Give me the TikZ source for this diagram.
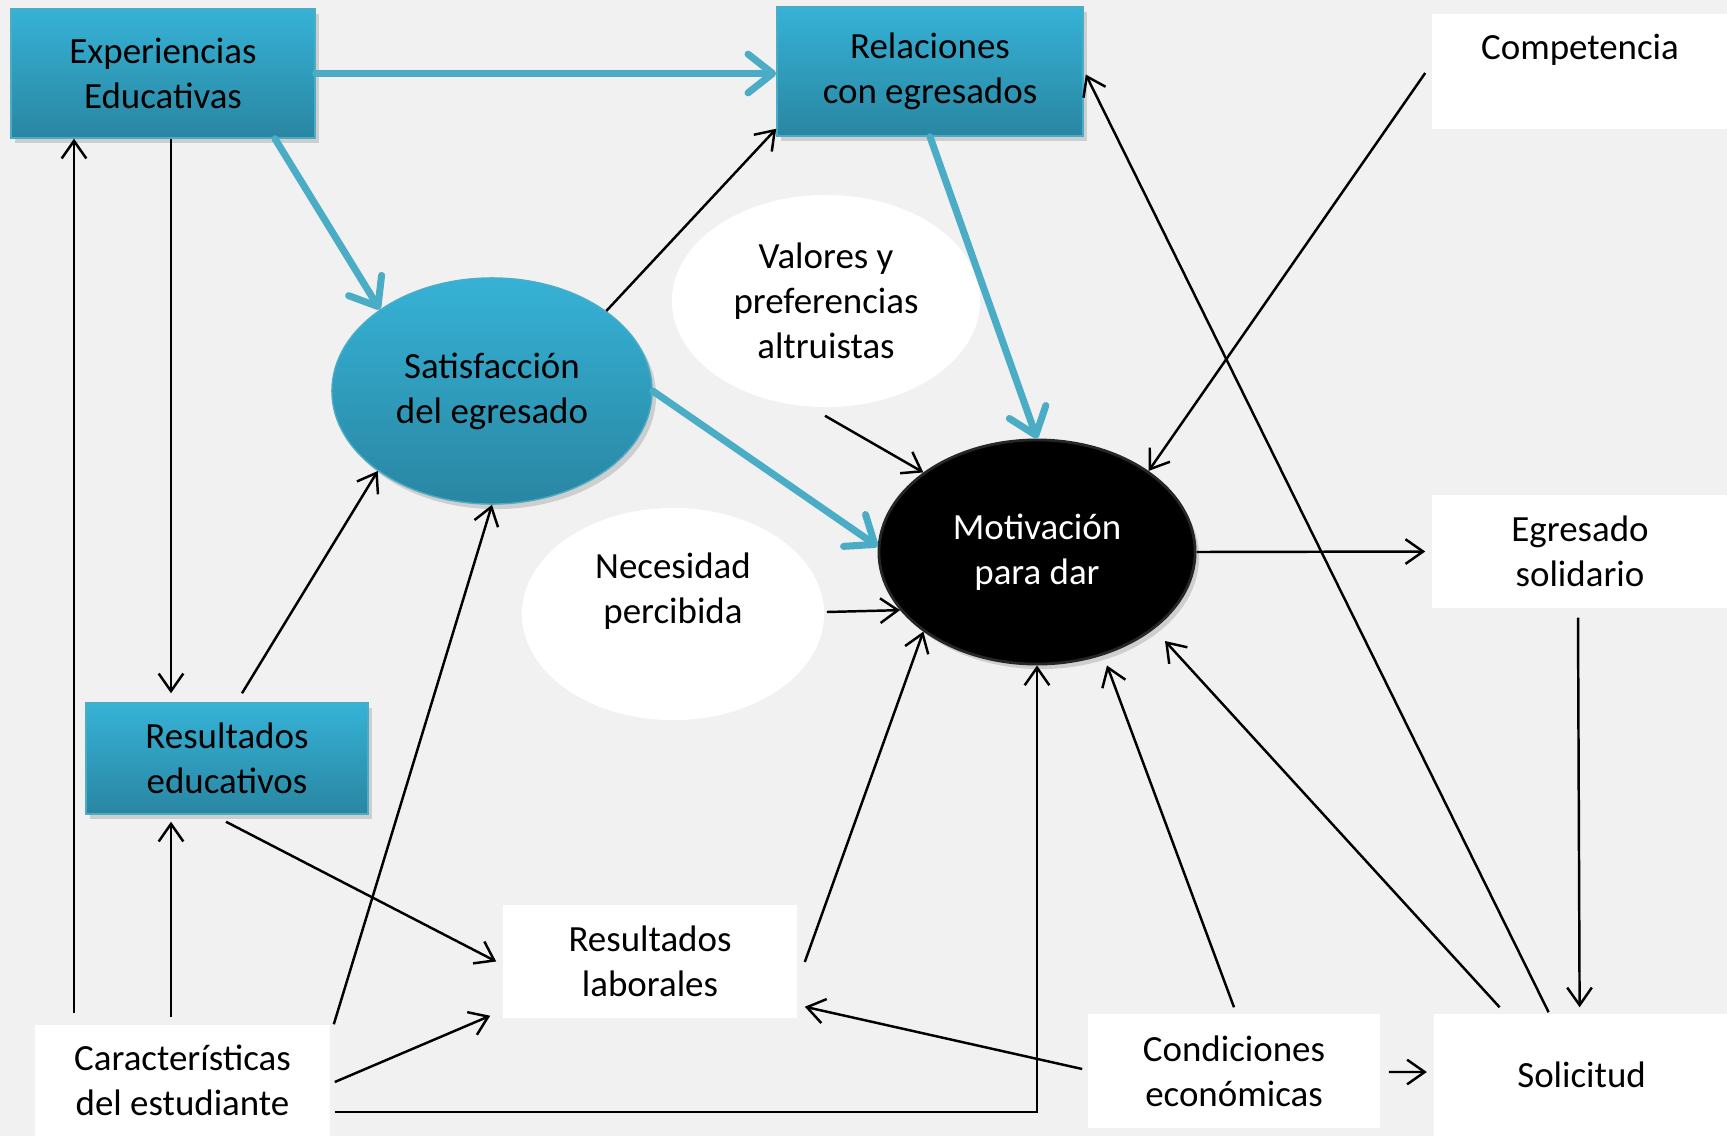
\documentclass[tikz,border=0pt]{standalone}
\usepackage{fontspec}
\setmainfont{Carlito}
\usetikzlibrary{shapes.geometric,arrows.meta,positioning,calc,shadows}

\definecolor{fondo}{RGB}{241,241,241}
\definecolor{azul}{RGB}{75,172,198}
\definecolor{azulclaro}{RGB}{54,178,214}
\definecolor{azuloscuro}{RGB}{41,134,162}

\begin{document}
\begin{tikzpicture}[x=0.01cm, y=-0.01cm,
    every node/.style={font=\fontsize{10.5}{12.8}\selectfont, align=center, inner sep=0pt},
    bluebox/.style={rectangle, draw=azul, line width=0.4pt, top color=azulclaro, bottom color=azuloscuro,
        drop shadow={shadow xshift=0.04cm, shadow yshift=-0.05cm, opacity=0.3}},
    whitebox/.style={rectangle, fill=white},
    blueoval/.style={ellipse, draw=azul, line width=0.4pt, top color=azulclaro, bottom color=azuloscuro,
        drop shadow={shadow xshift=0.04cm, shadow yshift=-0.05cm, opacity=0.3}},
    whiteoval/.style={ellipse, fill=white},
    darkoval/.style={ellipse, fill=black, draw=black!85, line width=0.8pt, text=white,
        drop shadow={shadow xshift=0.04cm, shadow yshift=-0.05cm, opacity=0.3}},
    link/.style={-{Straight Barb[length=5pt,width=7pt]}, line width=0.7pt},
    bluelink/.style={-{Straight Barb[length=7pt,width=11pt,round]}, draw=azul, line width=2pt, line cap=round},
]
\useasboundingbox (0,0) rectangle (1727,1136);
\fill[fondo] (0,0) rectangle (1727,1136);

% upper row
\node (expe) [bluebox, minimum width=3.04cm, minimum height=1.29cm] at (163,73.5) {Experiencias\\Educativas};
\node (rela) [bluebox, minimum width=3.06cm, minimum height=1.29cm] at (930,71.5) {Relaciones\\con egresados};
\node (comp) [whitebox, minimum width=2.96cm, minimum height=1.14cm, label={[yshift=0.215cm]center:Competencia}] at (1580,71.5) {};

% ovals
\node (sat) [blueoval, minimum width=3.2cm, minimum height=2.26cm] at (492,391) {Satisfacción\\del egresado};
\node (valo) [whiteoval, minimum width=3.08cm, minimum height=2.12cm] at (826,301) {Valores y\\preferencias\\altruistas};
\node (nece) [whiteoval, minimum width=3.02cm, minimum height=2.12cm, label={[yshift=0.23cm, align=center]center:Necesidad\\percibida}] at (673,614) {};
\node (moti) [darkoval, minimum width=3.16cm, minimum height=2.24cm] at (1037,552) {Motivación\\para dar};
\node (egre) [whitebox, minimum width=2.96cm, minimum height=1.13cm] at (1580,551.5) {Egresado\\solidario};

% lower part
\node (resedu) [bluebox, minimum width=2.82cm, minimum height=1.11cm] at (227,758.5) {Resultados\\educativos};
\node (reslab) [whitebox, minimum width=2.94cm, minimum height=1.13cm] at (650,961.5) {Resultados\\laborales};
\node (cara) [whitebox, minimum width=2.95cm, minimum height=1.11cm] at (182.5,1080.5) {Características\\del estudiante};
\node (cond) [whitebox, minimum width=2.92cm, minimum height=1.14cm] at (1234,1071) {Condiciones\\económicas};
\node (soli) [whitebox, minimum width=2.96cm, minimum height=1.22cm, right=0.52cm of cond, yshift=-0.04cm] {Solicitud};

% thick links
\draw[bluelink] (expe.east) -- (expe.east -| rela.west);
\draw[bluelink] ($(expe.south)+(112,0)$) -- (sat.144);
\draw[bluelink] (sat.east) -- (moti.178);
\draw[bluelink] (rela.south) -- (moti.north);

% thin links
\draw[link] ($(expe.south)+(8,0)$) -- ($(resedu.north)+(-56,-9)$);
\draw[link] ($(cara.north)+(-108.5,-11)$) -- ($(expe.south)+(-89,0)$);
\draw[link] ($(cara.north)+(-11.5,-7)$) -- ($(resedu.south)+(-56,7)$);
\draw[link] ($(resedu.north)+(15,-9)$) -- (sat.215);
\draw[link] (sat.35) -- ($(rela.south west)+(0,-8)$);
\draw[link] ($(cara.north east)+(3,0)$) -- (sat.south);
\draw[link] ($(resedu.south)+(-1,7)$) -- ($(reslab.west)+(-6,0)$);
\draw[link] ($(cara.east)+(4,1.5)$) -- ($(reslab.south west)+(-12,-3)$);
\draw[link] ($(cara.east)+(4,31.5)$) -| (moti.south);
\draw[link] ($(valo.south)+(-1,8)$) -- (moti.145);
\draw[link] ($(nece.east)+(2,-2)$) -- (moti.203);
\draw[link] ($(reslab.east)+(7,0.5)$) -- (moti.215);
\draw[link] ($(comp.west)+(-6,1.5)$) -- (moti.36);
\draw[link] (moti.east) -- ($(egre.west)+(-6,0)$);
\draw[link] ($(egre.south)+(-2,9)$) -- ($(soli.north)+(-2,-6)$);
\draw[link] ($(cond.east)+(8,1)$) -- ($(soli.west)+(-6,-3)$);
\draw[link] ($(cond.west)+(-5,-2)$) -- ($(reslab.south east)+(7,-12)$);
\draw[link] ($(cond.north)+(0,-6)$) -- ($(moti.south)+(70,0)$);
\draw[link] ($(soli.north)+(-82,-6)$) -- ($(moti.center)+(128,89)$);
\draw[link] ($(soli.north)+(-33,-1)$) -- ($(rela.east)+(2,3)$);
\end{tikzpicture}
\end{document}
